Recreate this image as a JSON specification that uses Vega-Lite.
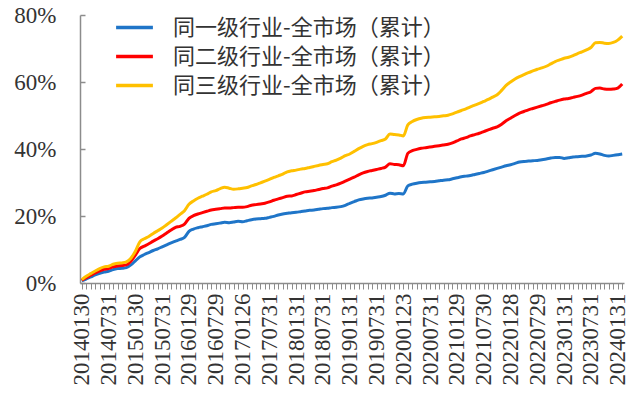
{
  "$schema": "https://vega.github.io/schema/vega-lite/v6.json",
  "width": 544,
  "height": 268,
  "autosize": {"type": "none"},
  "padding": {"left": 80, "top": 15, "right": 15, "bottom": 113},
  "background": "white",
  "config": {"view": {"stroke": null}},
  "data": {"values": [
    {"d":"20140130","y1":0.6,"y2":0.8,"y3":1.0},
    {"d":"20140228","y1":1.2,"y2":1.6,"y3":2.0},
    {"d":"20140331","y1":1.8,"y2":2.3,"y3":2.8},
    {"d":"20140430","y1":2.4,"y2":3.0,"y3":3.6},
    {"d":"20140530","y1":2.9,"y2":3.6,"y3":4.3},
    {"d":"20140630","y1":3.3,"y2":4.1,"y3":4.8},
    {"d":"20140731","y1":3.5,"y2":4.3,"y3":5.0},
    {"d":"20140829","y1":4.0,"y2":4.8,"y3":5.6},
    {"d":"20140930","y1":4.3,"y2":5.1,"y3":5.9},
    {"d":"20141031","y1":4.4,"y2":5.2,"y3":6.0},
    {"d":"20141128","y1":4.6,"y2":5.4,"y3":6.3},
    {"d":"20141231","y1":5.4,"y2":6.5,"y3":7.4},
    {"d":"20150130","y1":6.6,"y2":8.3,"y3":9.5},
    {"d":"20150227","y1":7.8,"y2":10.3,"y3":12.3},
    {"d":"20150331","y1":8.5,"y2":11.0,"y3":13.2},
    {"d":"20150430","y1":9.1,"y2":11.7,"y3":13.9},
    {"d":"20150529","y1":9.7,"y2":12.5,"y3":14.8},
    {"d":"20150630","y1":10.2,"y2":13.2,"y3":15.6},
    {"d":"20150731","y1":10.8,"y2":14.0,"y3":16.4},
    {"d":"20150831","y1":11.4,"y2":14.9,"y3":17.4},
    {"d":"20150930","y1":12.0,"y2":15.8,"y3":18.4},
    {"d":"20151030","y1":12.5,"y2":16.6,"y3":19.4},
    {"d":"20151130","y1":13.0,"y2":16.9,"y3":20.5},
    {"d":"20151231","y1":13.6,"y2":17.6,"y3":21.6},
    {"d":"20160129","y1":15.4,"y2":19.3,"y3":23.5},
    {"d":"20160229","y1":16.1,"y2":20.1,"y3":24.5},
    {"d":"20160331","y1":16.5,"y2":20.6,"y3":25.3},
    {"d":"20160429","y1":16.8,"y2":21.0,"y3":25.9},
    {"d":"20160531","y1":17.1,"y2":21.4,"y3":26.5},
    {"d":"20160630","y1":17.5,"y2":21.8,"y3":27.2},
    {"d":"20160729","y1":17.7,"y2":22.0,"y3":27.6},
    {"d":"20160831","y1":17.9,"y2":22.2,"y3":28.2},
    {"d":"20160930","y1":18.1,"y2":22.4,"y3":28.6},
    {"d":"20161031","y1":18.0,"y2":22.4,"y3":28.3},
    {"d":"20161130","y1":18.2,"y2":22.5,"y3":28.0},
    {"d":"20161230","y1":18.4,"y2":22.6,"y3":28.1},
    {"d":"20170126","y1":18.3,"y2":22.6,"y3":28.3},
    {"d":"20170228","y1":18.6,"y2":22.8,"y3":28.5},
    {"d":"20170331","y1":18.9,"y2":23.2,"y3":29.0},
    {"d":"20170428","y1":19.1,"y2":23.4,"y3":29.4},
    {"d":"20170531","y1":19.2,"y2":23.6,"y3":29.9},
    {"d":"20170630","y1":19.3,"y2":23.8,"y3":30.4},
    {"d":"20170731","y1":19.6,"y2":24.2,"y3":30.9},
    {"d":"20170831","y1":19.9,"y2":24.7,"y3":31.5},
    {"d":"20170929","y1":20.3,"y2":25.1,"y3":32.0},
    {"d":"20171031","y1":20.6,"y2":25.5,"y3":32.5},
    {"d":"20171130","y1":20.8,"y2":25.9,"y3":33.2},
    {"d":"20171229","y1":21.0,"y2":26.0,"y3":33.5},
    {"d":"20180131","y1":21.1,"y2":26.4,"y3":33.7},
    {"d":"20180228","y1":21.3,"y2":26.8,"y3":34.0},
    {"d":"20180330","y1":21.5,"y2":27.2,"y3":34.2},
    {"d":"20180427","y1":21.7,"y2":27.4,"y3":34.5},
    {"d":"20180531","y1":21.8,"y2":27.6,"y3":34.8},
    {"d":"20180629","y1":22.0,"y2":27.9,"y3":35.1},
    {"d":"20180731","y1":22.2,"y2":28.2,"y3":35.4},
    {"d":"20180831","y1":22.3,"y2":28.4,"y3":35.6},
    {"d":"20180928","y1":22.5,"y2":28.9,"y3":36.2},
    {"d":"20181031","y1":22.6,"y2":29.3,"y3":36.7},
    {"d":"20181130","y1":22.8,"y2":29.8,"y3":37.3},
    {"d":"20181228","y1":23.2,"y2":30.4,"y3":38.0},
    {"d":"20190131","y1":23.8,"y2":31.0,"y3":38.5},
    {"d":"20190228","y1":24.3,"y2":31.6,"y3":39.3},
    {"d":"20190329","y1":24.8,"y2":32.3,"y3":40.1},
    {"d":"20190430","y1":25.1,"y2":32.9,"y3":40.8},
    {"d":"20190531","y1":25.3,"y2":33.3,"y3":41.3},
    {"d":"20190628","y1":25.4,"y2":33.6,"y3":41.6},
    {"d":"20190731","y1":25.6,"y2":33.9,"y3":42.0},
    {"d":"20190830","y1":25.8,"y2":34.2,"y3":42.5},
    {"d":"20190930","y1":26.2,"y2":34.6,"y3":43.0},
    {"d":"20191031","y1":26.8,"y2":35.6,"y3":44.5},
    {"d":"20191129","y1":26.6,"y2":35.4,"y3":44.3},
    {"d":"20191231","y1":26.7,"y2":35.3,"y3":44.2},
    {"d":"20200123","y1":26.6,"y2":35.0,"y3":43.9},
    {"d":"20200228","y1":29.0,"y2":38.7,"y3":47.2},
    {"d":"20200331","y1":29.5,"y2":39.5,"y3":48.2},
    {"d":"20200430","y1":29.8,"y2":39.9,"y3":48.8},
    {"d":"20200529","y1":30.0,"y2":40.2,"y3":49.2},
    {"d":"20200630","y1":30.1,"y2":40.4,"y3":49.4},
    {"d":"20200731","y1":30.2,"y2":40.6,"y3":49.5},
    {"d":"20200831","y1":30.3,"y2":40.8,"y3":49.6},
    {"d":"20200930","y1":30.5,"y2":41.0,"y3":49.7},
    {"d":"20201030","y1":30.7,"y2":41.2,"y3":49.9},
    {"d":"20201130","y1":30.8,"y2":41.4,"y3":50.1},
    {"d":"20201231","y1":31.1,"y2":41.8,"y3":50.5},
    {"d":"20210129","y1":31.4,"y2":42.4,"y3":51.0},
    {"d":"20210226","y1":31.7,"y2":43.0,"y3":51.5},
    {"d":"20210331","y1":31.9,"y2":43.4,"y3":52.0},
    {"d":"20210430","y1":32.1,"y2":43.9,"y3":52.6},
    {"d":"20210531","y1":32.4,"y2":44.3,"y3":53.1},
    {"d":"20210630","y1":32.7,"y2":44.7,"y3":53.6},
    {"d":"20210730","y1":33.0,"y2":45.2,"y3":54.2},
    {"d":"20210831","y1":33.4,"y2":45.7,"y3":54.8},
    {"d":"20210930","y1":33.8,"y2":46.2,"y3":55.5},
    {"d":"20211029","y1":34.2,"y2":46.6,"y3":56.2},
    {"d":"20211130","y1":34.6,"y2":47.4,"y3":57.5},
    {"d":"20211231","y1":35.0,"y2":48.4,"y3":59.0},
    {"d":"20220128","y1":35.3,"y2":49.2,"y3":60.0},
    {"d":"20220228","y1":35.7,"y2":50.0,"y3":60.9},
    {"d":"20220331","y1":36.1,"y2":50.7,"y3":61.6},
    {"d":"20220429","y1":36.3,"y2":51.2,"y3":62.2},
    {"d":"20220531","y1":36.4,"y2":51.7,"y3":62.8},
    {"d":"20220630","y1":36.5,"y2":52.1,"y3":63.3},
    {"d":"20220729","y1":36.6,"y2":52.5,"y3":63.8},
    {"d":"20220831","y1":36.8,"y2":52.9,"y3":64.2},
    {"d":"20220930","y1":37.0,"y2":53.3,"y3":64.7},
    {"d":"20221031","y1":37.3,"y2":53.8,"y3":65.4},
    {"d":"20221130","y1":37.5,"y2":54.2,"y3":66.1},
    {"d":"20221230","y1":37.5,"y2":54.6,"y3":66.6},
    {"d":"20230131","y1":37.2,"y2":54.9,"y3":67.1},
    {"d":"20230228","y1":37.4,"y2":55.1,"y3":67.4},
    {"d":"20230331","y1":37.6,"y2":55.4,"y3":67.9},
    {"d":"20230428","y1":37.7,"y2":55.7,"y3":68.5},
    {"d":"20230531","y1":37.8,"y2":56.1,"y3":69.0},
    {"d":"20230630","y1":37.9,"y2":56.6,"y3":69.6},
    {"d":"20230731","y1":38.2,"y2":57.1,"y3":70.3},
    {"d":"20230831","y1":38.7,"y2":58.1,"y3":71.7},
    {"d":"20230928","y1":38.5,"y2":58.2,"y3":71.8},
    {"d":"20231031","y1":38.1,"y2":57.9,"y3":71.6},
    {"d":"20231130","y1":37.9,"y2":57.8,"y3":71.5},
    {"d":"20231229","y1":38.1,"y2":57.9,"y3":71.8},
    {"d":"20240131","y1":38.3,"y2":58.2,"y3":72.5},
    {"d":"20240229","y1":38.5,"y2":59.4,"y3":73.7}
  ]},
  "transform": [{"fold": ["y1", "y2", "y3"], "as": ["s", "v"]}],
  "mark": {"type": "line", "strokeWidth": 3, "interpolate": "monotone"},
  "encoding": {
    "x": {
      "field": "d", "type": "ordinal", "sort": null,
      "scale": {"type": "point", "padding": 0.4},
      "axis": {
        "title": null,
        "labelAngle": -90, "labelAlign": "right", "labelBaseline": "middle",
        "labelFont": "Liberation Serif", "labelFontSize": 23, "labelColor": "#333333",
        "labelPadding": 4, "labelOverlap": false,
        "labelExpr": "indexof(['20140130','20140731','20150130','20150731','20160129','20160729','20170126','20170731','20180131','20180731','20190131','20190731','20200123','20200731','20210129','20210730','20220128','20220729','20230131','20230731','20240131'], datum.value) >= 0 ? datum.value : ''",
        "domainColor": "#8c8c8c", "domainWidth": 1.5,
        "tickColor": "#8c8c8c", "tickSize": 6, "tickWidth": 1,
        "grid": false
      }
    },
    "y": {
      "field": "v", "type": "quantitative",
      "scale": {"domain": [0, 80]},
      "axis": {
        "title": null, "values": [0, 20, 40, 60, 80],
        "labelExpr": "datum.value + '%'",
        "labelFont": "Liberation Serif", "labelFontSize": 23, "labelColor": "#333333",
        "labelPadding": 29,
        "domainColor": "#8c8c8c", "domainWidth": 1.5,
        "tickColor": "#8c8c8c", "tickSize": -5, "tickWidth": 1.5,
        "grid": false
      }
    },
    "color": {
      "field": "s", "type": "nominal",
      "scale": {"domain": ["y1", "y2", "y3"], "range": ["#1F75C8", "#FF0000", "#FFC000"]},
      "legend": {
        "title": null, "orient": "none", "legendX": 41, "legendY": -1,
        "symbolType": "M-1.6,0H1.6", "symbolSize": 529, "symbolStrokeWidth": 3.5,
        "labelFont": "Noto Sans CJK SC", "labelFontSize": 22, "labelColor": "#333333",
        "labelOffset": 25, "rowPadding": 4, "labelLimit": 400,
        "labelExpr": "datum.value == 'y1' ? '同一级行业-全市场（累计）' : datum.value == 'y2' ? '同二级行业-全市场（累计）' : '同三级行业-全市场（累计）'"
      }
    }
  }
}
